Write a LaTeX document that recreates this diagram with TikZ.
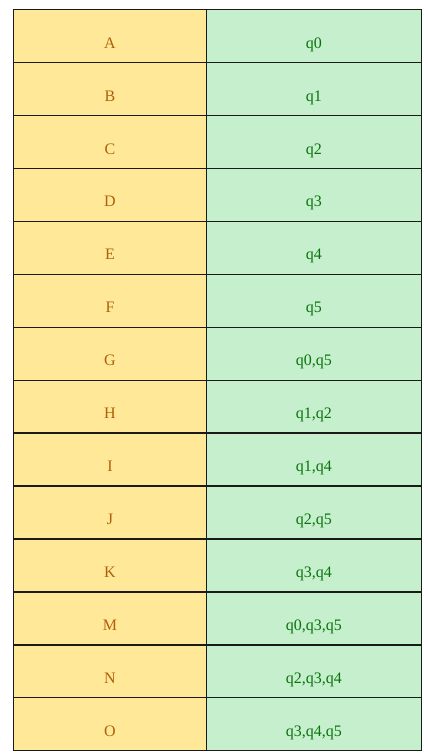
\documentclass[tikz,border=0pt]{standalone}
\usepackage{fontspec}
\setmainfont{Liberation Serif}
\definecolor{keyfill}{HTML}{FFE999}
\definecolor{keytext}{HTML}{B0600A}
\definecolor{setfill}{HTML}{C6EFCE}
\definecolor{settext}{HTML}{0A740A}
\definecolor{gridline}{HTML}{1A1A1A}
\tikzset{
  cell/.style={draw=gridline,line width=1.4pt,minimum height=52.93pt,inner sep=0pt,anchor=north west},
  keycell/.style={cell,fill=keyfill,minimum width=192.5pt},
  setcell/.style={cell,fill=setfill,minimum width=215.5pt},
  celltext/.style={inner sep=0pt,text height=10pt,text depth=3pt}
}
\begin{document}
\begin{tikzpicture}[x=1pt,y=1pt,font=\fontsize{16}{19}\selectfont]
\useasboundingbox (0,0) rectangle (428,-756);
\foreach \k/\s [count=\i from 0] in {A/q0,B/q1,C/q2,D/q3,E/q4,F/q5,G/{q0,q5},H/{q1,q2},I/{q1,q4},J/{q2,q5},K/{q3,q4},M/{q0,q3,q5},N/{q2,q3,q4},O/{q3,q4,q5}}{
  \node[keycell] (key\i) at (13,{-9-52.93*\i}) {};
  \node[setcell] (set\i) at (205.5,{-9-52.93*\i}) {};
  \node[celltext,text=keytext] (keylab\i) at ([yshift=-8.5pt]key\i.center) {\k};
  \node[celltext,text=settext] (setlab\i) at ([yshift=-8.5pt]set\i.center) {\s};
}
\end{tikzpicture}
\end{document}
